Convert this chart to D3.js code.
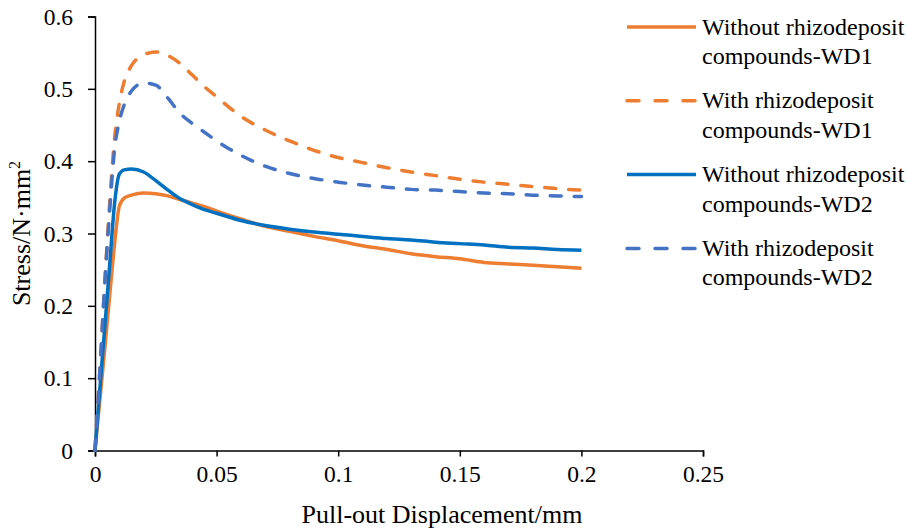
<!DOCTYPE html>
<head>
	<meta charset="utf-8">
	<script src="https://d3js.org/d3.v7.min.js"></script>
	<style>
		body { margin: 0; background: #fff; }
		text { font-family: 'Liberation Serif', 'Times New Roman', serif; fill: #000; }
	</style>
</head>
<body>
<svg width="908" height="530"></svg>
<script>
	// displacement (mm), shared by all series
	var displacement = [0, 0.002, 0.004, 0.006, 0.008, 0.01, 0.012, 0.015, 0.02, 0.025, 0.03, 0.035, 0.04, 0.045, 0.05,
		0.06, 0.07, 0.08, 0.09, 0.1, 0.11, 0.12, 0.13, 0.14, 0.15, 0.16, 0.17, 0.18, 0.19, 0.2];

	var withoutWD1 = [0, 0.07, 0.14, 0.213, 0.284, 0.338, 0.349, 0.353, 0.356, 0.355, 0.352, 0.347, 0.342, 0.337, 0.331,
		0.320, 0.310, 0.303, 0.296, 0.290, 0.283, 0.278, 0.272, 0.268, 0.265, 0.260, 0.258, 0.256, 0.254, 0.252];
	var withWD1 = [0, 0.11, 0.23, 0.34, 0.43, 0.48, 0.51, 0.532, 0.547, 0.551, 0.546, 0.535, 0.519, 0.503, 0.489,
		0.462, 0.443, 0.428, 0.415, 0.405, 0.398, 0.391, 0.385, 0.380, 0.375, 0.371, 0.368, 0.365, 0.362, 0.360];
	var withoutWD2 = [0, 0.085, 0.17, 0.255, 0.34, 0.382, 0.388, 0.389, 0.385, 0.373, 0.360, 0.348, 0.340, 0.333, 0.328,
		0.318, 0.311, 0.306, 0.302, 0.299, 0.296, 0.293, 0.291, 0.288, 0.286, 0.284, 0.281, 0.280, 0.278, 0.277];
	var withWD2 = [0, 0.11, 0.23, 0.33, 0.415, 0.455, 0.478, 0.497, 0.508, 0.505, 0.487, 0.466, 0.452, 0.44, 0.428,
		0.408, 0.393, 0.383, 0.376, 0.371, 0.367, 0.364, 0.361, 0.360, 0.358, 0.356, 0.355, 0.353, 0.352, 0.351];

	var seriesNames = ['Without rhizodeposit|compounds-WD1', 'With rhizodeposit|compounds-WD1',
		'Without rhizodeposit|compounds-WD2', 'With rhizodeposit|compounds-WD2'];
	var xTicks = [0, 0.05, 0.1, 0.15, 0.2, 0.25];
	var yTicks = [0, 0.1, 0.2, 0.3, 0.4, 0.5, 0.6];

	var series = [
		{name: seriesNames[0], values: withoutWD1, color: '#ED7D31', dash: null},
		{name: seriesNames[1], values: withWD1, color: '#ED7D31', dash: '11,13'},
		{name: seriesNames[2], values: withoutWD2, color: '#0070C0', dash: null},
		{name: seriesNames[3], values: withWD2, color: '#4472C4', dash: '11,13'}
	];

	var svg = d3.select('svg');
	var plotLeft = 95, plotRight = 703, plotTop = 16.5, plotBottom = 450.5;

	var x = d3.scaleLinear().domain([0, 0.25]).range([plotLeft, plotRight]);
	var y = d3.scaleLinear().domain([0, 0.6]).range([plotBottom, plotTop]);

	/* ---------- axes ---------- */
	var xAxis = svg.append('g')
		.attr('transform', 'translate(0,' + plotBottom + ')')
		.call(d3.axisBottom(x).tickValues(xTicks).tickSize(6).tickPadding(9)
			.tickFormat(function (d) { return d === 0 ? '0' : String(+d.toFixed(2)); }));
	var yAxis = svg.append('g')
		.attr('transform', 'translate(' + plotLeft + ',0)')
		.call(d3.axisLeft(y).tickValues(yTicks).tickSize(7).tickPadding(15)
			.tickFormat(function (d) { return d === 0 ? '0' : String(+d.toFixed(1)); }));

	[xAxis, yAxis].forEach(function (a) {
		a.select('.domain').attr('stroke', '#000').attr('stroke-width', 1.5);
		a.selectAll('.tick line').attr('stroke', '#000').attr('stroke-width', 1.5);
		a.selectAll('.tick text').attr('font-size', 23.5).attr('font-family', 'Liberation Serif').attr('fill', '#000');
	});

	svg.append('text')
		.attr('x', 442)
		.attr('y', 523)
		.attr('text-anchor', 'middle')
		.attr('font-size', 26)
		.text('Pull-out Displacement/mm');

	var yt = svg.append('text')
		.attr('transform', 'translate(30,' + ((plotTop + plotBottom) / 2) + ') rotate(-90)')
		.attr('text-anchor', 'middle')
		.attr('font-size', 26);
	yt.append('tspan').text('Stress/N·mm');
	yt.append('tspan').attr('font-size', 16).attr('dy', -10).text('2');

	/* ---------- lines ---------- */
	var line = d3.line()
		.x(function (d, i) { return x(displacement[i]); })
		.y(function (d) { return y(d); })
		.curve(d3.curveMonotoneX);

	svg.append('g').selectAll('path.series')
		.data(series)
		.enter()
		.append('path')
		.attr('class', 'series')
		.attr('fill', 'none')
		.attr('stroke', function (d) { return d.color; })
		.attr('stroke-width', 3.5)
		.attr('stroke-linecap', function (d) { return d.dash ? 'round' : 'butt'; })
		.attr('stroke-dasharray', function (d) { return d.dash; })
		.attr('d', function (d) { return line(d.values); });

	/* ---------- legend ---------- */
	var legend = svg.append('g').selectAll('g.legend')
		.data(series)
		.enter()
		.append('g')
		.attr('class', 'legend')
		.attr('transform', function (d, i) { return 'translate(0,' + (27 + i * 73.8) + ')'; });

	legend.append('line')
		.attr('x1', 627).attr('x2', 696)
		.attr('stroke', function (d) { return d.color; })
		.attr('stroke-width', 3.5)
		.attr('stroke-linecap', function (d) { return d.dash ? 'round' : 'butt'; })
		.attr('stroke-dasharray', function (d) { return d.dash ? '12,16' : null; });

	legend.append('text')
		.attr('x', 702)
		.attr('font-size', 24)
		.selectAll('tspan')
		.data(function (d) { return d.name.split('|'); })
		.enter()
		.append('tspan')
		.attr('x', 702)
		.attr('y', function (d, i) { return 7.5 + i * 29.5; })
		.text(function (d) { return d; });
</script>
</body>
